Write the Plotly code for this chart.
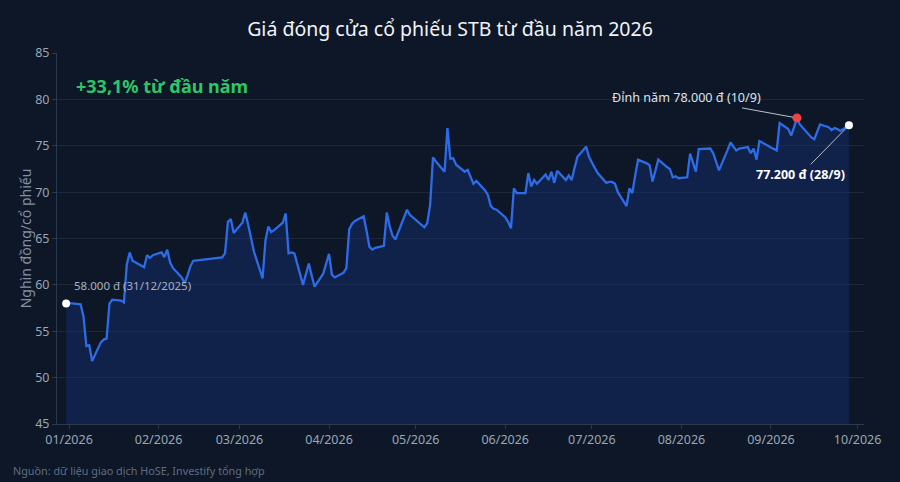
import plotly.graph_objects as go

dates = [
    "2025-12-31", "2026-01-02", "2026-01-05", "2026-01-06", "2026-01-07", "2026-01-08", "2026-01-09",
    "2026-01-12", "2026-01-13", "2026-01-14", "2026-01-15", "2026-01-16",
    "2026-01-19", "2026-01-20", "2026-01-21", "2026-01-22", "2026-01-23",
    "2026-01-26", "2026-01-27", "2026-01-28", "2026-01-29", "2026-01-30",
    "2026-02-02", "2026-02-03", "2026-02-04", "2026-02-05", "2026-02-06",
    "2026-02-09", "2026-02-10", "2026-02-11", "2026-02-12", "2026-02-13",
    "2026-02-23", "2026-02-24", "2026-02-25", "2026-02-26", "2026-02-27",
    "2026-03-02", "2026-03-03", "2026-03-04", "2026-03-05", "2026-03-06",
    "2026-03-09", "2026-03-10", "2026-03-11", "2026-03-12", "2026-03-13",
    "2026-03-16", "2026-03-17", "2026-03-18", "2026-03-19", "2026-03-20",
    "2026-03-23", "2026-03-24", "2026-03-25", "2026-03-26", "2026-03-27",
    "2026-03-30", "2026-03-31", "2026-04-01", "2026-04-02", "2026-04-03",
    "2026-04-06", "2026-04-07", "2026-04-08", "2026-04-09", "2026-04-10",
    "2026-04-13", "2026-04-14", "2026-04-15", "2026-04-16", "2026-04-17",
    "2026-04-20", "2026-04-21", "2026-04-22", "2026-04-23", "2026-04-24",
    "2026-04-28", "2026-04-29",
    "2026-05-04", "2026-05-05", "2026-05-06", "2026-05-07", "2026-05-08",
    "2026-05-11", "2026-05-12", "2026-05-13", "2026-05-14", "2026-05-15",
    "2026-05-18", "2026-05-19", "2026-05-20", "2026-05-21", "2026-05-22",
    "2026-05-25", "2026-05-26", "2026-05-27", "2026-05-28", "2026-05-29",
    "2026-06-01", "2026-06-02", "2026-06-03", "2026-06-04", "2026-06-05",
    "2026-06-08", "2026-06-09", "2026-06-10", "2026-06-11", "2026-06-12",
    "2026-06-15", "2026-06-16", "2026-06-17", "2026-06-18", "2026-06-19",
    "2026-06-22", "2026-06-23", "2026-06-24", "2026-06-25", "2026-06-26",
    "2026-06-29", "2026-06-30", "2026-07-01", "2026-07-02", "2026-07-03",
    "2026-07-06", "2026-07-07", "2026-07-08", "2026-07-09", "2026-07-10",
    "2026-07-13", "2026-07-14", "2026-07-15", "2026-07-16", "2026-07-17",
    "2026-07-20", "2026-07-21", "2026-07-22", "2026-07-23", "2026-07-24",
    "2026-07-27", "2026-07-28", "2026-07-29", "2026-07-30", "2026-07-31",
    "2026-08-03", "2026-08-04", "2026-08-05", "2026-08-06", "2026-08-07",
    "2026-08-10", "2026-08-11", "2026-08-12", "2026-08-13", "2026-08-14",
    "2026-08-17", "2026-08-18", "2026-08-19", "2026-08-20", "2026-08-21",
    "2026-08-24", "2026-08-25", "2026-08-26", "2026-08-27", "2026-08-28",
    "2026-08-31", "2026-09-01", "2026-09-03", "2026-09-04",
    "2026-09-07", "2026-09-08", "2026-09-09", "2026-09-10", "2026-09-11",
    "2026-09-14", "2026-09-15", "2026-09-16", "2026-09-17", "2026-09-18",
    "2026-09-21", "2026-09-22", "2026-09-23", "2026-09-24", "2026-09-25",
    "2026-09-28",
]

prices = [
    58.0, 58.0, 57.9, 56.6, 53.4, 53.5, 51.8,
    53.8, 54.1, 54.2, 58.0, 58.4,
    58.3, 58.1, 62.2, 63.5, 62.6,
    62.1, 61.9, 63.2, 62.9, 63.2,
    63.5, 63.0, 63.8, 62.4, 61.8,
    60.8, 60.2, 61.0, 62.0, 62.6,
    62.95, 63.4, 66.8, 67.1, 65.6,
    66.7, 67.8, 66.5, 64.9, 63.6,
    60.7, 64.8, 66.3, 65.7, 65.9,
    66.7, 67.7, 63.4, 63.5, 63.4,
    60.0, 61.2, 62.3, 61.0, 59.8,
    61.2, 62.3, 63.35, 61.1, 60.8,
    61.3, 61.8, 66.0, 66.6, 66.9,
    67.4, 65.8, 64.1, 63.8, 64.0,
    64.2, 67.8, 66.3, 65.3, 64.9,
    68.1, 67.55,
    66.2, 66.65, 68.6, 73.75, 73.3,
    72.2, 76.9, 73.6, 73.65, 72.95,
    72.2, 72.4, 71.6, 70.9, 71.2,
    70.2, 69.7, 68.5, 68.2, 68.1,
    67.3, 66.8, 66.1, 70.4, 69.9,
    69.9, 72.05, 70.6, 71.3, 70.9,
    71.9, 71.3, 72.2, 71.0, 72.3,
    71.3, 71.8, 71.3, 72.6, 73.8,
    74.9, 73.8, 73.2, 72.6, 72.05,
    71.0, 71.1, 71.1, 70.9, 70.0,
    68.5, 70.4, 69.9, 71.8, 73.5,
    73.1, 72.9, 71.15, 72.3, 73.5,
    72.7, 72.5, 71.6, 71.7, 71.5,
    71.6, 74.15, 73.2, 72.2, 74.65,
    74.7, 74.7, 74.2, 73.3, 72.35,
    74.55, 75.35, 74.9, 74.5, 74.7,
    74.85, 74.2, 74.7, 73.5, 75.5,
    75.0, 74.8, 74.5, 77.45,
    76.8, 76.1, 77.0, 78.0, 77.3,
    76.3, 75.9, 75.7, 76.6, 77.3,
    77.0, 76.7, 76.9, 76.8, 76.6,
    77.2,
]

start_date, start_price = "2025-12-31", 58.0
peak_date, peak_price = "2026-09-10", 78.0
end_date, end_price = "2026-09-28", 77.2

title_text = "Giá đóng cửa cổ phiếu STB từ đầu năm 2026"
ytitle_text = "Nghìn đồng/cổ phiếu"
gain_text = "+33,1% từ đầu năm"
start_label = "58.000 đ (31/12/2025)"
peak_label = "Đỉnh năm 78.000 đ (10/9)"
end_label = "<b>77.200 đ (28/9)</b>"
source_text = "Nguồn: dữ liệu giao dịch HoSE, Investify tổng hợp"

BG = "#0d1727"
FONT = "Noto Sans"

fig = go.Figure()
fig.add_trace(go.Scatter(
    x=dates, y=prices, mode="lines",
    line=dict(color="#2e6be6", width=2.3),
    fill="tozeroy", fillcolor="rgba(22,52,140,0.35)",
    hoverinfo="skip", showlegend=False,
))
fig.add_trace(go.Scatter(
    x=[start_date, end_date], y=[start_price, end_price], mode="markers",
    marker=dict(color="white", size=8), showlegend=False,
))
fig.add_trace(go.Scatter(
    x=[peak_date], y=[peak_price], mode="markers",
    marker=dict(color="#ef4444", size=9), showlegend=False,
))

fig.update_layout(
    width=900, height=482,
    paper_bgcolor=BG, plot_bgcolor=BG,
    margin=dict(l=57, r=36, t=53, b=58),
    font=dict(family=FONT, color="#9aa6b6", size=12),
    title=dict(text=title_text, x=0.5, xanchor="center", y=0.94, yanchor="middle",
               font=dict(family=FONT, size=19.5, color="#f1f4f8")),
    xaxis=dict(
        type="date", range=["2025-12-27 20:00", "2026-10-03 05:00"],
        dtick="M1", tick0="2026-01-01", tickformat="%m/%Y",
        showgrid=False, showline=True, linecolor="#2c3a4e", linewidth=1,
        ticks="outside", ticklen=4, tickcolor="#2c3a4e",
        tickfont=dict(size=12.5, color="#9aa6b6"), zeroline=False,
    ),
    yaxis=dict(
        range=[45, 85], dtick=5, tick0=45,
        showgrid=True, gridcolor="rgba(255,255,255,0.07)", gridwidth=1,
        showline=True, linecolor="#2c3a4e", linewidth=1,
        ticks="outside", ticklen=4, tickcolor="#2c3a4e",
        tickfont=dict(size=12.5, color="#9aa6b6"), zeroline=False,
        title=dict(text=ytitle_text, font=dict(size=14, color="#8390a3"), standoff=0),
    ),
    annotations=[
        dict(text="<b>" + gain_text + "</b>", xref="paper", yref="paper",
             x=0.021, y=0.911, xanchor="left", yanchor="middle", showarrow=False,
             font=dict(size=18, color="#2ec766", family=FONT)),
        dict(text=start_label, xref="x", yref="y", x=start_date, y=start_price,
             xanchor="left", yanchor="bottom", xshift=6, yshift=8, showarrow=False,
             font=dict(size=11.5, color="#a7b1c0", family=FONT)),
        dict(text=peak_label, xref="x", yref="y", x=peak_date, y=peak_price,
             ax=-110, ay=-20, showarrow=True, arrowhead=0, arrowwidth=1,
             arrowcolor="#b8c0cc", standoff=4,
             font=dict(size=12.6, color="#dde3ea", family=FONT)),
        dict(text=end_label, xref="x", yref="y", x=end_date, y=end_price,
             ax=-48, ay=49, showarrow=True, arrowhead=0, arrowwidth=1,
             arrowcolor="#b8c0cc", standoff=4,
             font=dict(size=12.5, color="#ffffff", family=FONT)),
        dict(text=source_text, xref="paper", yref="paper", x=-0.057, y=-0.124,
             xanchor="left", yanchor="middle", showarrow=False,
             font=dict(size=10.8, color="#5f6d82", family=FONT)),
    ],
)

fig.write_html(
    "out.html",
    config={"displayModeBar": False},
    post_script="document.body.style.margin='0';document.body.style.padding='0';"
                "document.body.style.background='" + BG + "';",
)
